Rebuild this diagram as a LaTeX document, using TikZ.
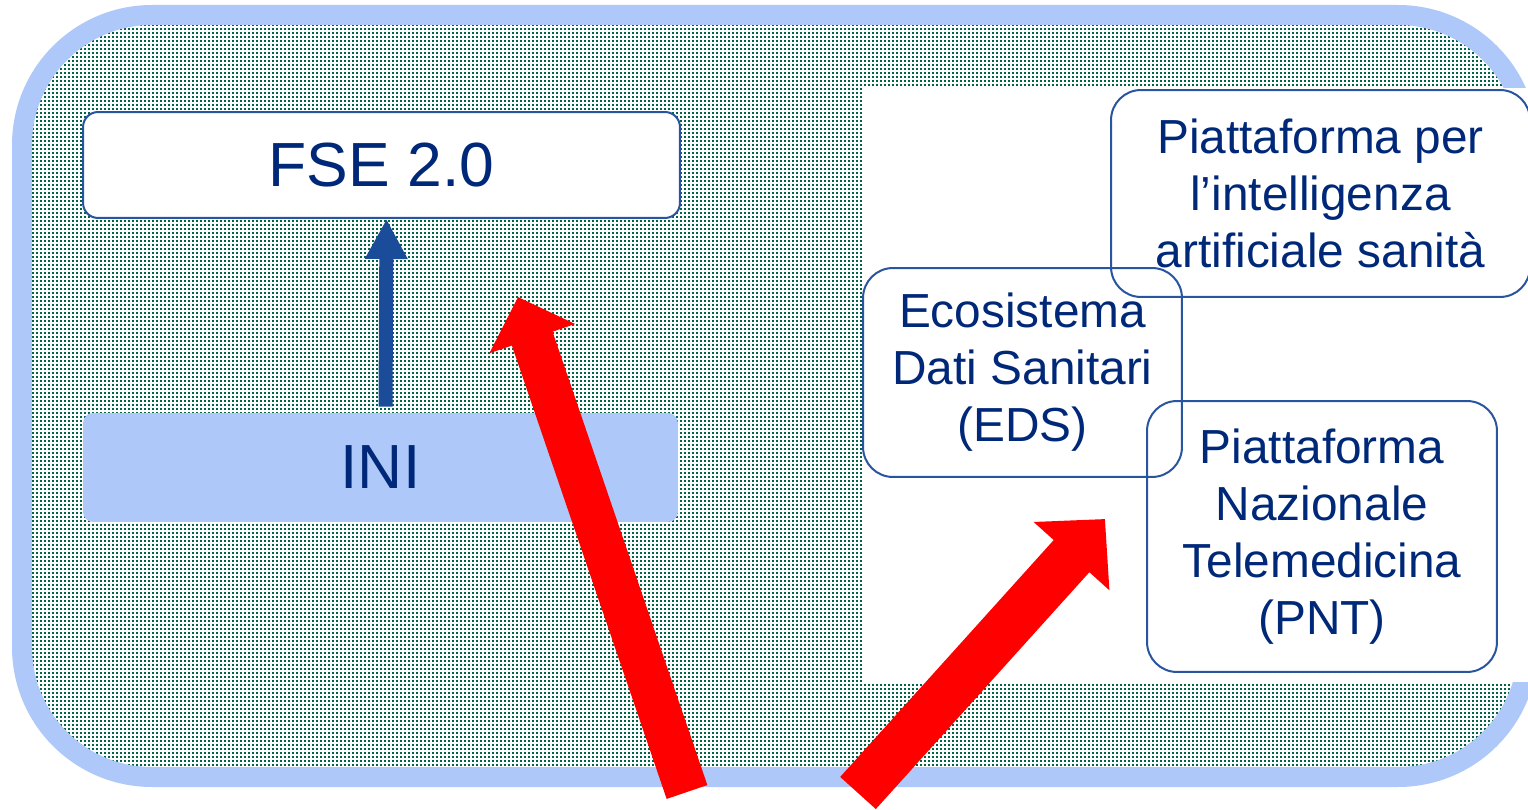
\documentclass[tikz,border=0pt]{standalone}
\usepackage{fontspec}
\setmainfont{Liberation Sans}
\usetikzlibrary{arrows.meta, patterns.meta, positioning}

\definecolor{frameblue}{RGB}{175,200,250}
\definecolor{dotgreen}{RGB}{0,100,70}
\definecolor{boxblue}{RGB}{40,85,160}
\definecolor{textnavy}{RGB}{0,40,120}
\definecolor{arrowblue}{RGB}{26,76,154}

\tikzdeclarepattern{
  name=gridDots,
  type=uncolored,
  bounding box={(0pt,0pt) and (2.28pt,2.28pt)},
  tile size={(2.28pt,2.28pt)},
  code={\fill (0pt,0pt) rectangle (1.25pt,1.25pt);}
}

\begin{document}
\begin{tikzpicture}[x=0.02cm, y=-0.02cm,
    platbox/.style={rectangle, draw=boxblue, line width=0.04cm, rounded corners=0.6cm,
      text=textnavy, align=center, font=\fontsize{27.2}{32.4}\selectfont},
    bigtext/.style={text=textnavy, font=\fontsize{35.5}{40}\selectfont},
    bigarrow/.style={red, line width=#1}]
			\useasboundingbox (0,0) rectangle (1528,810);
			\clip (0,0) rectangle (1528,810);
			
			% dotted frame and white panel
			\draw[line width=0.4cm, draw=frameblue, pattern=gridDots, pattern color=dotgreen, rounded corners=2.6cm] (22,15) rectangle (1528,777);
			\fill[white] (862,88) rectangle (1540,682);
			
			\node[rectangle, draw=boxblue, fill=white, line width=0.04cm, rounded corners=0.3cm, minimum width=11.94cm, minimum height=2.12cm, bigtext] (fse) at (381.5,165) {FSE 2.0};
			\node[rectangle, fill=frameblue, rounded corners=0.2cm, minimum width=11.9cm, minimum height=2.18cm, bigtext] (ini) at (380.5,467.5) {INI};
			\draw[arrowblue, line width=0.28cm, -{Triangle[length=0.8cm, width=0.8cm]}] ([xshift=0.1cm, yshift=0.12cm]ini.north) -- ([xshift=0.1cm]fse.south);
			
			\node[platbox, minimum width=8.38cm, minimum height=4.14cm] (ai) at (1320.5,193.5) {Piattaforma per\\l’intelligenza\\artificiale sanità};
			\node[platbox, minimum width=6.38cm, minimum height=4.18cm] (eds) at (1022.5,372.5) {Ecosistema\\Dati Sanitari\\(EDS)};
			\node[platbox, minimum width=7cm, minimum height=5.42cm] (pnt) at (1322,536.5) {Piattaforma\\Nazionale\\Telemedicina\\(PNT)};
			
			% red arrows
			\coordinate (tailA) at (687,792);
			\coordinate (tipA) at (518,297);
			\coordinate (tailB) at (858,793);
			\coordinate (tipB) at (1105,519);
			\draw[bigarrow=0.86cm, -{Triangle[length=0.88cm, width=1.76cm]}] (tailA) -- (tipA);
			\draw[bigarrow=0.96cm, -{Triangle[length=1cm, width=1.98cm]}] (tailB) -- (tipB);
		\end{tikzpicture}
\end{document}
